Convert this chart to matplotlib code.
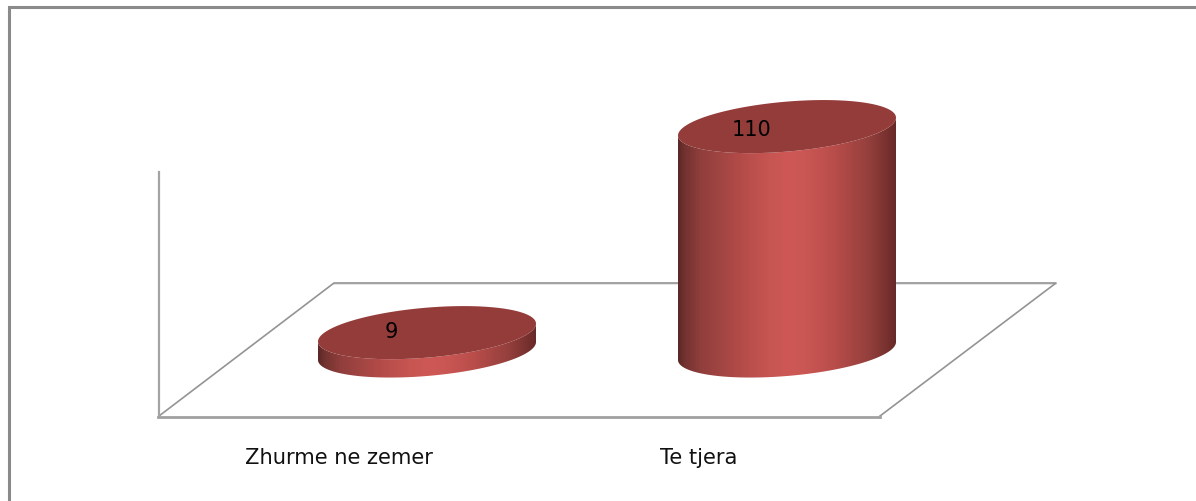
import numpy as np
import matplotlib
matplotlib.use("Agg")
import matplotlib.pyplot as plt
from matplotlib.colors import LinearSegmentedColormap
from matplotlib.patches import Polygon, PathPatch
from matplotlib.path import Path

categories = ["Zhurme ne zemer", "Te tjera"]
values = [9, 110]

W, H = 1196, 501
BASE_Y = 351.0    # pixel row of the value 0
PX_PER_UNIT = 2.04
HALF_W = 109.0
SLOPE = -0.082
MINOR = 25.0
X0, STEP = 427.0, 360.0
LABEL_X0, LABEL_STEP = 338.5, 360.0

fig = plt.figure(figsize=(W / 100, H / 100), dpi=100, facecolor="white")
ax = fig.add_axes([0, 0, 1, 1])
ax.set_xlim(0, W)
ax.set_ylim(H, 0)
ax.axis("off")

# outer frame
ax.plot([8.5, 8.5, W], [H, 6.5, 6.5], color="#8a8a8a", lw=2.2, solid_capstyle="butt", solid_joinstyle="miter")

# floor and wall
ax.add_patch(Polygon([(159, 416), (334, 283), (1056, 283), (880, 416)], closed=True,
                     facecolor="white", edgecolor="none"))
ax.plot([1056, 334], [284.2, 284.2], color="#e2e2e2", lw=1.2)
ax.plot([159, 334, 1056, 880], [416, 283, 283, 416], color="#949494", lw=1.2)
ax.plot([159, 159], [172, 416], color="#a4a4a4", lw=1.6)
ax.plot([158, 880], [416.5, 416.5], color="#a0a0a0", lw=2.0)

cmap = LinearSegmentedColormap.from_list("cyl", [
    (0.00, "#5a2826"), (0.03, "#723230"), (0.10, "#8f3e3c"), (0.28, "#b24b48"),
    (0.42, "#c75552"), (0.50, "#cd5855"), (0.58, "#cb5754"), (0.72, "#b84d4a"),
    (0.88, "#933f3c"), (0.97, "#742f2d"), (1.00, "#662a28"),
])


def ellipse(cx, cy, t):
    return cx + HALF_W * np.cos(t), cy + SLOPE * HALF_W * np.cos(t) + MINOR * np.sin(t)


for i, v in enumerate(values):
    cx = X0 + STEP * i
    top = BASE_Y - v * PX_PER_UNIT
    # body: lower half of the bottom ellipse, upper edge follows the top ellipse front
    t = np.linspace(np.pi, 0, 120)
    xb, yb = ellipse(cx, BASE_Y, t)
    xt, yt = ellipse(cx, top, t[::-1])
    verts = np.r_[np.c_[xb, yb], np.c_[xt, yt], [[xb[0], yb[0]]]]
    codes = [Path.MOVETO] + [Path.LINETO] * (len(verts) - 2) + [Path.CLOSEPOLY]
    clip = PathPatch(Path(verts, codes), facecolor="none", edgecolor="none", transform=ax.transData)
    ax.add_patch(clip)
    im = ax.imshow(np.linspace(0, 1, 256)[None, :], cmap=cmap, aspect="auto",
                   extent=(cx - HALF_W, cx + HALF_W, BASE_Y + 40, top - 40), zorder=3)
    im.set_clip_path(clip)
    # top cap
    t = np.linspace(0, 2 * np.pi, 240)
    xe, ye = ellipse(cx, top, t)
    ax.add_patch(Polygon(np.c_[xe, ye], closed=True, facecolor="#943c3a", edgecolor="none", zorder=4))
    dy = 3 if v > 50 else -1
    ax.text(cx - 35.5, top + dy, str(v), fontsize=15, color="black", ha="center", va="center", zorder=5)

ax.set_xlim(0, W)
ax.set_ylim(H, 0)

for i, c in enumerate(categories):
    ax.text(LABEL_X0 + LABEL_STEP * i, 458, c, fontsize=15.1, color="#111111", ha="center", va="center")

fig.savefig("out.png", dpi=100, facecolor="white")
